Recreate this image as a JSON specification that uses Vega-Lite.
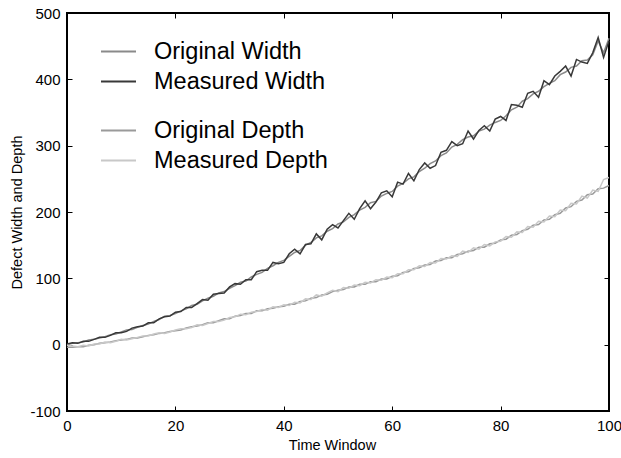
{
  "$schema": "https://vega.github.io/schema/vega-lite/v6.json",
  "width": 542,
  "height": 398,
  "autosize": "none",
  "padding": {"left": 67, "top": 13, "right": 12, "bottom": 47},
  "background": "white",
  "config": {
    "font": "Liberation Sans",
    "view": {"stroke": "#000", "strokeWidth": 2},
    "axis": {
      "grid": false,
      "domain": false,
      "tickSize": -5,
      "tickColor": "#000",
      "tickWidth": 1,
      "labelFont": "Liberation Sans",
      "labelFontSize": 15,
      "labelColor": "#000",
      "labelPadding": 12,
      "labelFlush": false,
      "labelOverlap": false,
      "titleFont": "Liberation Sans",
      "titleFontSize": 14.5,
      "titleFontWeight": "normal",
      "titleColor": "#000",
      "titlePadding": 5
    },
    "legend": {
      "orient": "none",
      "title": null,
      "symbolType": "stroke",
      "symbolSize": 1225,
      "symbolStrokeWidth": 2,
      "labelFont": "Liberation Sans",
      "labelFontSize": 23.5,
      "labelColor": "#000",
      "labelOffset": 17,
      "labelLimit": 0,
      "rowPadding": -1,
      "padding": 0
    }
  },
  "data": {"values": [
    {"t":0,"Original Width":0,"Measured Width":1,"Original Depth":-4,"Measured Depth":-1},
    {"t":1,"Original Width":2,"Measured Width":3,"Original Depth":-4,"Measured Depth":-2},
    {"t":2,"Original Width":3,"Measured Width":2,"Original Depth":-3,"Measured Depth":-3},
    {"t":3,"Original Width":4,"Measured Width":5,"Original Depth":-3,"Measured Depth":-1},
    {"t":4,"Original Width":7,"Measured Width":5,"Original Depth":-1,"Measured Depth":-2},
    {"t":5,"Original Width":8,"Measured Width":8,"Original Depth":0,"Measured Depth":1},
    {"t":6,"Original Width":10,"Measured Width":11,"Original Depth":2,"Measured Depth":1},
    {"t":7,"Original Width":12,"Measured Width":11,"Original Depth":3,"Measured Depth":4},
    {"t":8,"Original Width":15,"Measured Width":14,"Original Depth":4,"Measured Depth":3},
    {"t":9,"Original Width":16,"Measured Width":18,"Original Depth":6,"Measured Depth":5},
    {"t":10,"Original Width":19,"Measured Width":18,"Original Depth":7,"Measured Depth":8},
    {"t":11,"Original Width":22,"Measured Width":20,"Original Depth":8,"Measured Depth":7},
    {"t":12,"Original Width":23,"Measured Width":25,"Original Depth":10,"Measured Depth":9},
    {"t":13,"Original Width":26,"Measured Width":27,"Original Depth":10,"Measured Depth":11},
    {"t":14,"Original Width":29,"Measured Width":28,"Original Depth":12,"Measured Depth":13},
    {"t":15,"Original Width":31,"Measured Width":33,"Original Depth":14,"Measured Depth":13},
    {"t":16,"Original Width":35,"Measured Width":33,"Original Depth":15,"Measured Depth":16},
    {"t":17,"Original Width":38,"Measured Width":39,"Original Depth":17,"Measured Depth":18},
    {"t":18,"Original Width":43,"Measured Width":42,"Original Depth":18,"Measured Depth":17},
    {"t":19,"Original Width":44,"Measured Width":43,"Original Depth":20,"Measured Depth":19},
    {"t":20,"Original Width":47,"Measured Width":49,"Original Depth":21,"Measured Depth":22},
    {"t":21,"Original Width":51,"Measured Width":50,"Original Depth":22,"Measured Depth":24},
    {"t":22,"Original Width":54,"Measured Width":56,"Original Depth":25,"Measured Depth":24},
    {"t":23,"Original Width":59,"Measured Width":56,"Original Depth":27,"Measured Depth":26},
    {"t":24,"Original Width":61,"Measured Width":62,"Original Depth":28,"Measured Depth":30},
    {"t":25,"Original Width":66,"Measured Width":68,"Original Depth":30,"Measured Depth":29},
    {"t":26,"Original Width":70,"Measured Width":67,"Original Depth":33,"Measured Depth":32},
    {"t":27,"Original Width":73,"Measured Width":76,"Original Depth":33,"Measured Depth":35},
    {"t":28,"Original Width":78,"Measured Width":77,"Original Depth":36,"Measured Depth":35},
    {"t":29,"Original Width":80,"Measured Width":78,"Original Depth":39,"Measured Depth":37},
    {"t":30,"Original Width":85,"Measured Width":87,"Original Depth":39,"Measured Depth":41},
    {"t":31,"Original Width":89,"Measured Width":92,"Original Depth":43,"Measured Depth":42},
    {"t":32,"Original Width":94,"Measured Width":91,"Original Depth":44,"Measured Depth":46},
    {"t":33,"Original Width":96,"Measured Width":98,"Original Depth":47,"Measured Depth":45},
    {"t":34,"Original Width":102,"Measured Width":98,"Original Depth":47,"Measured Depth":49},
    {"t":35,"Original Width":106,"Measured Width":110,"Original Depth":51,"Measured Depth":50},
    {"t":36,"Original Width":109,"Measured Width":112,"Original Depth":51,"Measured Depth":53},
    {"t":37,"Original Width":115,"Measured Width":112,"Original Depth":54,"Measured Depth":52},
    {"t":38,"Original Width":119,"Measured Width":124,"Original Depth":55,"Measured Depth":57},
    {"t":39,"Original Width":124,"Measured Width":122,"Original Depth":57,"Measured Depth":56},
    {"t":40,"Original Width":127,"Measured Width":124,"Original Depth":58,"Measured Depth":60},
    {"t":41,"Original Width":133,"Measured Width":137,"Original Depth":61,"Measured Depth":59},
    {"t":42,"Original Width":139,"Measured Width":144,"Original Depth":61,"Measured Depth":64},
    {"t":43,"Original Width":142,"Measured Width":137,"Original Depth":65,"Measured Depth":63},
    {"t":44,"Original Width":150,"Measured Width":151,"Original Depth":66,"Measured Depth":69},
    {"t":45,"Original Width":154,"Measured Width":152,"Original Depth":70,"Measured Depth":68},
    {"t":46,"Original Width":161,"Measured Width":167,"Original Depth":71,"Measured Depth":75},
    {"t":47,"Original Width":164,"Measured Width":158,"Original Depth":75,"Measured Depth":73},
    {"t":48,"Original Width":171,"Measured Width":174,"Original Depth":76,"Measured Depth":78},
    {"t":49,"Original Width":175,"Measured Width":181,"Original Depth":80,"Measured Depth":82},
    {"t":50,"Original Width":182,"Measured Width":176,"Original Depth":82,"Measured Depth":80},
    {"t":51,"Original Width":185,"Measured Width":187,"Original Depth":83,"Measured Depth":86},
    {"t":52,"Original Width":192,"Measured Width":198,"Original Depth":87,"Measured Depth":85},
    {"t":53,"Original Width":196,"Measured Width":189,"Original Depth":87,"Measured Depth":90},
    {"t":54,"Original Width":203,"Measured Width":205,"Original Depth":91,"Measured Depth":89},
    {"t":55,"Original Width":207,"Measured Width":217,"Original Depth":91,"Measured Depth":94},
    {"t":56,"Original Width":214,"Measured Width":205,"Original Depth":95,"Measured Depth":93},
    {"t":57,"Original Width":216,"Measured Width":215,"Original Depth":95,"Measured Depth":98},
    {"t":58,"Original Width":224,"Measured Width":229,"Original Depth":99,"Measured Depth":97},
    {"t":59,"Original Width":228,"Measured Width":232,"Original Depth":99,"Measured Depth":102},
    {"t":60,"Original Width":231,"Measured Width":223,"Original Depth":103,"Measured Depth":101},
    {"t":61,"Original Width":239,"Measured Width":245,"Original Depth":104,"Measured Depth":107},
    {"t":62,"Original Width":243,"Measured Width":242,"Original Depth":109,"Measured Depth":107},
    {"t":63,"Original Width":250,"Measured Width":258,"Original Depth":110,"Measured Depth":113},
    {"t":64,"Original Width":253,"Measured Width":247,"Original Depth":115,"Measured Depth":113},
    {"t":65,"Original Width":261,"Measured Width":264,"Original Depth":116,"Measured Depth":119},
    {"t":66,"Original Width":266,"Measured Width":274,"Original Depth":120,"Measured Depth":118},
    {"t":67,"Original Width":273,"Measured Width":266,"Original Depth":121,"Measured Depth":124},
    {"t":68,"Original Width":277,"Measured Width":270,"Original Depth":126,"Measured Depth":123},
    {"t":69,"Original Width":285,"Measured Width":290,"Original Depth":127,"Measured Depth":130},
    {"t":70,"Original Width":289,"Measured Width":293,"Original Depth":131,"Measured Depth":129},
    {"t":71,"Original Width":298,"Measured Width":306,"Original Depth":131,"Measured Depth":134},
    {"t":72,"Original Width":302,"Measured Width":300,"Original Depth":136,"Measured Depth":133},
    {"t":73,"Original Width":309,"Measured Width":303,"Original Depth":137,"Measured Depth":141},
    {"t":74,"Original Width":313,"Measured Width":322,"Original Depth":141,"Measured Depth":139},
    {"t":75,"Original Width":315,"Measured Width":310,"Original Depth":142,"Measured Depth":146},
    {"t":76,"Original Width":322,"Measured Width":323,"Original Depth":147,"Measured Depth":144},
    {"t":77,"Original Width":325,"Measured Width":330,"Original Depth":147,"Measured Depth":151},
    {"t":78,"Original Width":331,"Measured Width":322,"Original Depth":152,"Measured Depth":149},
    {"t":79,"Original Width":335,"Measured Width":340,"Original Depth":153,"Measured Depth":155},
    {"t":80,"Original Width":338,"Measured Width":344,"Original Depth":158,"Measured Depth":156},
    {"t":81,"Original Width":345,"Measured Width":338,"Original Depth":159,"Measured Depth":163},
    {"t":82,"Original Width":354,"Measured Width":362,"Original Depth":165,"Measured Depth":162},
    {"t":83,"Original Width":358,"Measured Width":361,"Original Depth":166,"Measured Depth":170},
    {"t":84,"Original Width":367,"Measured Width":358,"Original Depth":172,"Measured Depth":169},
    {"t":85,"Original Width":371,"Measured Width":379,"Original Depth":174,"Measured Depth":178},
    {"t":86,"Original Width":378,"Measured Width":382,"Original Depth":180,"Measured Depth":177},
    {"t":87,"Original Width":382,"Measured Width":373,"Original Depth":181,"Measured Depth":186},
    {"t":88,"Original Width":389,"Measured Width":398,"Original Depth":188,"Measured Depth":185},
    {"t":89,"Original Width":394,"Measured Width":392,"Original Depth":189,"Measured Depth":194},
    {"t":90,"Original Width":398,"Measured Width":405,"Original Depth":196,"Measured Depth":193},
    {"t":91,"Original Width":407,"Measured Width":412,"Original Depth":198,"Measured Depth":203},
    {"t":92,"Original Width":411,"Measured Width":420,"Original Depth":206,"Measured Depth":202},
    {"t":93,"Original Width":418,"Measured Width":405,"Original Depth":208,"Measured Depth":213},
    {"t":94,"Original Width":420,"Measured Width":430,"Original Depth":216,"Measured Depth":212},
    {"t":95,"Original Width":428,"Measured Width":426,"Original Depth":218,"Measured Depth":224},
    {"t":96,"Original Width":429,"Measured Width":424,"Original Depth":226,"Measured Depth":221},
    {"t":97,"Original Width":437,"Measured Width":440,"Original Depth":227,"Measured Depth":233},
    {"t":98,"Original Width":458,"Measured Width":463,"Original Depth":235,"Measured Depth":231},
    {"t":99,"Original Width":440,"Measured Width":433,"Original Depth":236,"Measured Depth":249},
    {"t":100,"Original Width":462,"Measured Width":458,"Original Depth":240,"Measured Depth":252}
  ]},
  "transform": [
    {"fold": ["Original Width", "Measured Width", "Original Depth", "Measured Depth"], "as": ["series", "value"]}
  ],
  "layer": [
    {
      "transform": [{"filter": "indexof(datum.series, 'Width') >= 0"}],
      "mark": {"type": "line", "strokeWidth": 1.5},
      "encoding": {
        "x": {"field": "t", "type": "quantitative", "scale": {"domain": [0, 100], "nice": false},
              "axis": {"orient": "bottom", "values": [0, 20, 40, 60, 80, 100], "title": "Time Window", "titleX": 265}},
        "y": {"field": "value", "type": "quantitative", "scale": {"domain": [-100, 500], "nice": false},
              "axis": {"orient": "left", "values": [-100, 0, 100, 200, 300, 400, 500], "title": "Defect Width and Depth",
                       "labelExpr": "'' + datum.value"}},
        "color": {"field": "series", "type": "nominal",
                  "scale": {"domain": ["Original Width", "Measured Width"], "range": ["#8a8a8a", "#383838"]},
                  "legend": {"orient": "none", "legendX": 33, "legendY": 20}}
      }
    },
    {
      "transform": [{"filter": "indexof(datum.series, 'Depth') >= 0"}],
      "mark": {"type": "line", "strokeWidth": 1.5},
      "encoding": {
        "x": {"field": "t", "type": "quantitative",
              "axis": {"orient": "top", "values": [0, 20, 40, 60, 80, 100], "labels": false, "title": null}},
        "y": {"field": "value", "type": "quantitative",
              "axis": {"orient": "right", "values": [-100, 0, 100, 200, 300, 400, 500], "labels": false, "title": null}},
        "color": {"field": "series", "type": "nominal",
                  "scale": {"domain": ["Original Depth", "Measured Depth"], "range": ["#9a9a9a", "#c8c8c8"]},
                  "legend": {"orient": "none", "legendX": 33, "legendY": 99}}
      }
    }
  ],
  "resolve": {"scale": {"color": "independent"}, "axis": {"x": "independent", "y": "independent"}}
}
